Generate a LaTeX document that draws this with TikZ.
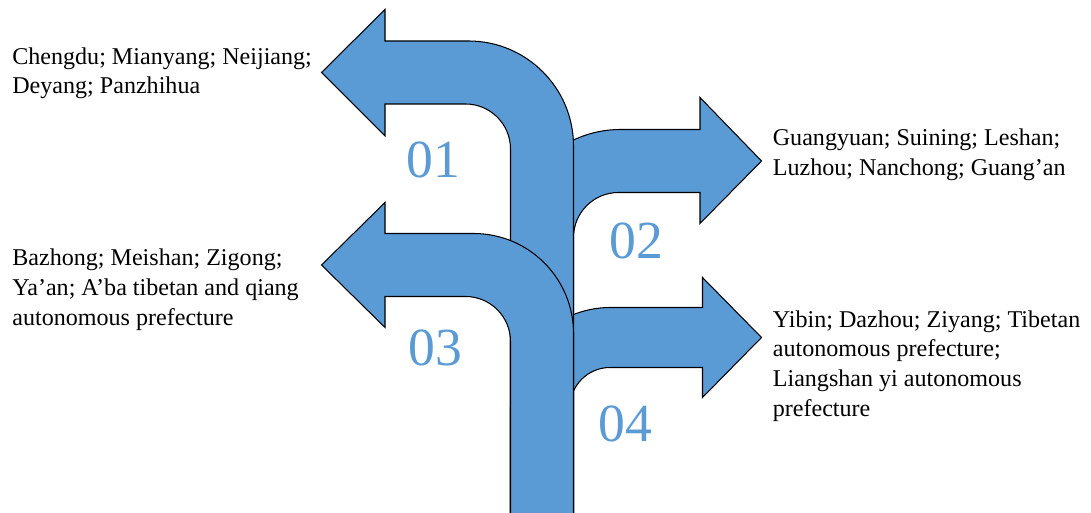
\documentclass[tikz,border=0pt]{standalone}
\usepackage{fontspec}
\setmainfont{Liberation Serif}
\definecolor{arrowblue}{HTML}{5B9BD5}
\begin{document}
\begin{tikzpicture}[
  branch/.style={fill=arrowblue,draw=black,line width=0.6pt},
  num/.style={text=arrowblue,font={\fontsize{30.5}{34}\selectfont}},
  cities/.style={align=left,inner sep=0pt,anchor=north west,
    font={\fontsize{13.7}{17}\selectfont}}]
\useasboundingbox (0,0) rectangle (21.82,10.26);
\clip (0,0) rectangle (21.82,10.26);
% 右侧两支：竖直部分藏在主干后面
\draw[branch] (10.21,-0.2) -- (10.21,5.47) arc[start angle=180,end angle=90,radius=2.2]
  -- (14.0,7.67) -- (14.0,8.31) -- (15.23,7.04) -- (14.0,5.79) -- (14.0,6.41)
  -- (12.37,6.41) arc[start angle=90,end angle=180,radius=0.9] -- (11.47,-0.2) -- cycle;
\draw[branch] (10.21,-0.2) -- (10.21,2.11) arc[start angle=180,end angle=90,radius=2.0]
  -- (14.05,4.11) -- (14.05,4.71) -- (15.23,3.51) -- (14.05,2.31) -- (14.05,2.91)
  -- (12.20,2.91) arc[start angle=90,end angle=180,radius=0.8] -- (11.40,-0.2) -- cycle;
% 左侧两支：主干
\draw[branch] (10.21,-0.2) -- (10.21,7.28) arc[start angle=0,end angle=90,radius=0.9]
  -- (7.70,8.18) -- (7.70,7.54) -- (6.43,8.81) -- (7.70,10.07) -- (7.70,9.44)
  -- (9.37,9.44) arc[start angle=90,end angle=0,radius=2.1] -- (11.47,-0.2) -- cycle;
\draw[branch] (10.21,-0.2) -- (10.21,3.43) arc[start angle=0,end angle=90,radius=0.9]
  -- (7.70,4.33) -- (7.70,3.71) -- (6.43,4.96) -- (7.70,6.21) -- (7.70,5.59)
  -- (9.47,5.59) arc[start angle=90,end angle=0,radius=2.0] -- (11.47,-0.2) -- cycle;
% 编号
\node[num] (n01) at (8.66,7.06) {01};
\node[num] (n02) at (12.73,5.44) {02};
\node[num] (n03) at (8.70,3.30) {03};
\node[num] (n04) at (12.50,1.78) {04};
% 城市
\node[cities] (t01) at (0.24,9.32) {Chengdu; Mianyang; Neijiang;\\Deyang; Panzhihua};
\node[cities] (t02) at (15.45,7.69) {Guangyuan; Suining; Leshan;\\Luzhou; Nanchong; Guang’an};
\node[cities] (t03) at (0.24,5.29) {Bazhong; Meishan; Zigong;\\Ya’an; A’ba tibetan and qiang\\autonomous prefecture};
\node[cities] (t04) at (15.45,4.06) {Yibin; Dazhou; Ziyang; Tibetan\\autonomous prefecture;\\Liangshan yi autonomous\\prefecture};
\end{tikzpicture}
\end{document}
